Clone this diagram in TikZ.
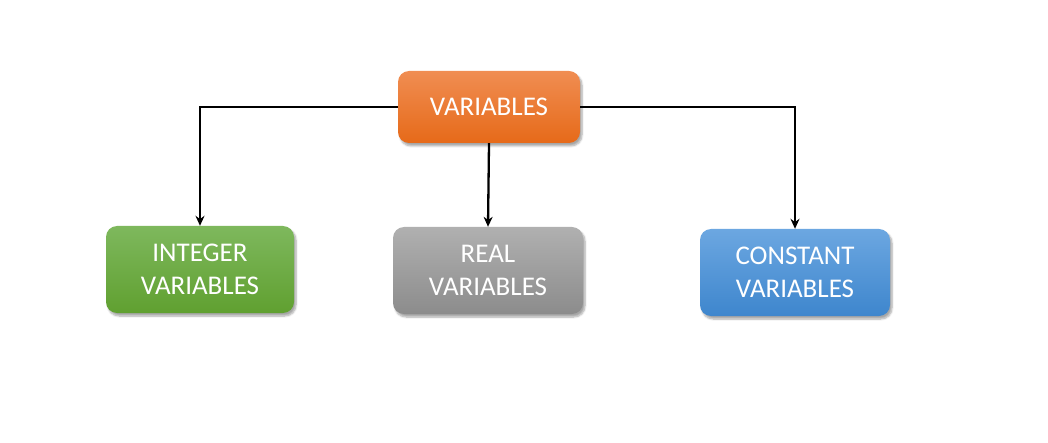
\documentclass[tikz,border=0pt]{standalone}
\usepackage{fontspec}
\setmainfont{Carlito}
\usetikzlibrary{arrows.meta,shadows.blur}
\definecolor{orT}{HTML}{F08D52}
\definecolor{orB}{HTML}{E66A19}
\definecolor{grT}{HTML}{7EB85D}
\definecolor{grB}{HTML}{60A030}
\definecolor{gyT}{HTML}{B0B0B0}
\definecolor{gyB}{HTML}{8C8C8C}
\definecolor{blT}{HTML}{6CA7E1}
\definecolor{blB}{HTML}{3E86CD}
\tikzset{
  box/.style={rounded corners=11pt, minimum width=#1, align=center, text=white,
    font=\fontsize{27}{33}\selectfont,
    blur shadow={shadow xshift=2pt, shadow yshift=-3pt, shadow blur steps=6, shadow opacity=35}},
  box/.default=186pt,
  conn/.style={line width=2.3pt, -{Stealth[length=10pt,width=9pt]}},
}
\begin{document}
\begin{tikzpicture}[x=1pt,y=-1pt]
\useasboundingbox (0,0) rectangle (1048,443);
\node[box=182pt, minimum height=72pt, top color=orT, bottom color=orB] (var) at (489,107) {VARIABLES};
\node[box=188pt, minimum height=87pt, top color=grT, bottom color=grB] (int) at (200,269.5) {INTEGER\\VARIABLES};
\node[box=190pt, minimum height=87pt, top color=gyT, bottom color=gyB] (real) at (488,270.5) {REAL\\VARIABLES};
\node[box=190pt, minimum height=87pt, top color=blT, bottom color=blB] (con) at (795,272.5) {CONSTANT\\VARIABLES};
\draw[conn] (var.west) -| (int.north);
\draw[conn] (var.south) -- (real.north);
\draw[conn] (var.east) -| (con.north);
\end{tikzpicture}
\end{document}
